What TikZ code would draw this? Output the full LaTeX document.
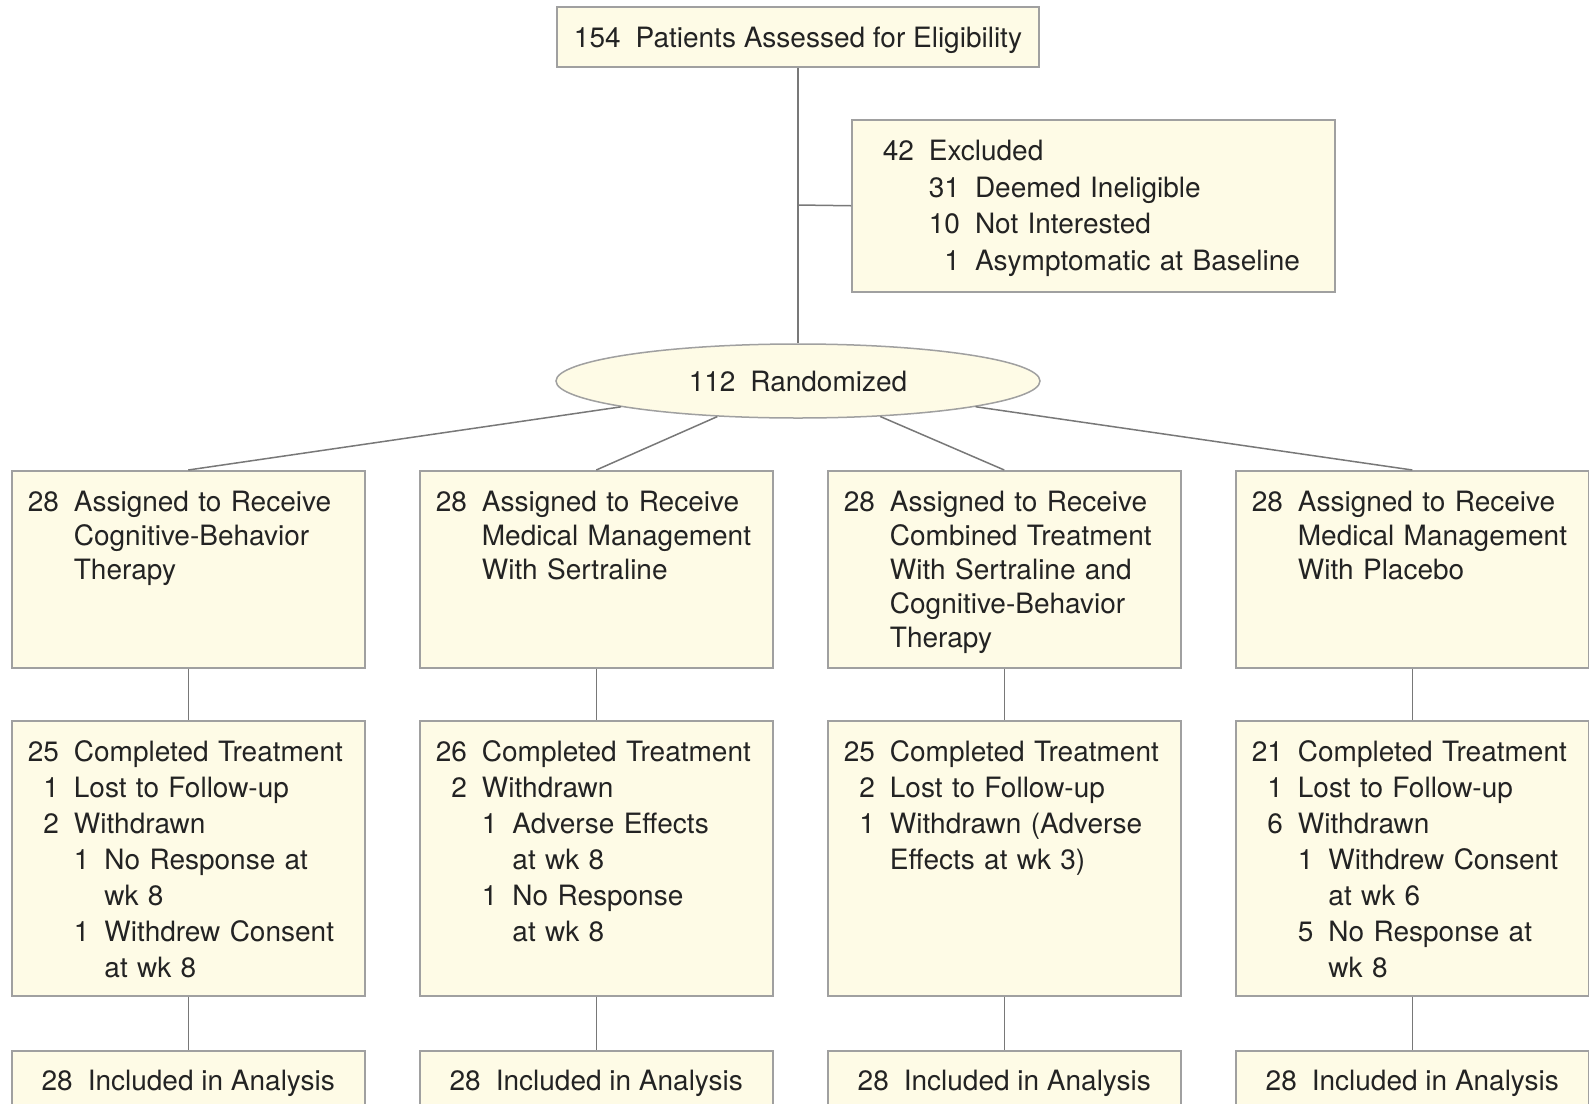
\documentclass[tikz,border=0pt]{standalone}
\usepackage{fontspec}
\setmainfont{TeX Gyre Heros}
\usetikzlibrary{shapes.geometric}
\definecolor{boxfill}{RGB}{254,251,230}
\definecolor{boxdraw}{RGB}{160,160,160}
\definecolor{linec}{RGB}{120,120,120}
\definecolor{txt}{RGB}{35,35,35}
\newcommand{\nA}[1]{\makebox[1.112em][r]{#1}\hspace{15pt}}
\newcommand{\nB}[1]{\makebox[0.556em][r]{#1}\hspace{15pt}}
\newcommand{\iA}{\hspace*{1.112em}\hspace*{15pt}}
\newcommand{\iB}{\hspace*{0.556em}\hspace*{15pt}}
\tikzset{
  basebox/.style={draw=boxdraw, fill=boxfill, line width=1.5pt, text=txt, inner ysep=0pt},
  assigned/.style={basebox, anchor=north west, inner xsep=16pt, text width=321pt, align=left,
    text height=40.6pt, text depth=156.4pt, font=\fontsize{28}{34}\selectfont},
  completed/.style={basebox, anchor=north west, inner xsep=16pt, text width=321pt, align=left,
    text height=41pt, text depth=234pt, font=\fontsize{28}{36}\selectfont},
  included/.style={basebox, anchor=north, inner xsep=0pt, minimum width=353pt, align=center,
    text height=40pt, text depth=40pt, font=\fontsize{28}{34}\selectfont},
  conn/.style={draw=linec, line width=1.5pt}
}
\begin{document}
\begin{tikzpicture}[x=1pt, y=-1pt]
\useasboundingbox (0,0) rectangle (1589,1103);
\clip (0,0) rectangle (1589,1103);
\fill[white] (0,0) rectangle (1589,1103);

% top
\node[basebox, anchor=north, minimum width=482pt, inner xsep=0pt, text height=40.5pt, text depth=19.5pt,
  font=\fontsize{28}{34}\selectfont] (top) at (798,6) {154\hspace{15pt}Patients Assessed for Eligibility};

% excluded
\node[basebox, anchor=north west, inner xsep=31pt, text width=421pt, align=left,
  text height=41pt, text depth=131pt, font=\fontsize{28}{36.5}\selectfont] (excl) at (851,119)
  {\nA{42}Excluded\\
   \iA\nA{31}Deemed Ineligible\\
   \iA\nA{10}Not Interested\\
   \iA\nA{1}Asymptomatic at Baseline};

% randomized
\node[basebox, ellipse, minimum width=484pt, minimum height=74pt, inner sep=0pt,
  font=\fontsize{28}{34}\selectfont] (rand) at (798,381) {112\hspace{15pt}Randomized};

\coordinate (br) at (798,205);
\draw[conn] (top.south) -- (rand.north);
\draw[conn] (br) -- (excl.west);

% assigned
\node[assigned] (a1) at (11,470) {\nA{28}Assigned to Receive\\ \iA Cognitive-Behavior\\ \iA Therapy};
\node[assigned] (a2) at (419,470) {\nA{28}Assigned to Receive\\ \iA Medical Management\\ \iA With Sertraline};
\node[assigned] (a3) at (827,470) {\nA{28}Assigned to Receive\\ \iA Combined Treatment\\ \iA With Sertraline and\\ \iA Cognitive-Behavior\\ \iA Therapy};
\node[assigned] (a4) at (1235,470) {\nA{28}Assigned to Receive\\ \iA Medical Management\\ \iA With Placebo};

% completed
\node[completed] (c1) at (11,720) {\nA{25}Completed Treatment\\
  \nA{1}Lost to Follow-up\\
  \nA{2}Withdrawn\\
  \iA\nB{1}No Response at\\
  \iA\iB wk 8\\
  \iA\nB{1}Withdrew Consent\\
  \iA\iB at wk 8};
\node[completed] (c2) at (419,720) {\nA{26}Completed Treatment\\
  \nA{2}Withdrawn\\
  \iA\nB{1}Adverse Effects\\
  \iA\iB at wk 8\\
  \iA\nB{1}No Response\\
  \iA\iB at wk 8};
\node[completed] (c3) at (827,720) {\nA{25}Completed Treatment\\
  \nA{2}Lost to Follow-up\\
  \nA{1}Withdrawn (Adverse\\
  \iA Effects at wk 3)};
\node[completed] (c4) at (1235,720) {\nA{21}Completed Treatment\\
  \nA{1}Lost to Follow-up\\
  \nA{6}Withdrawn\\
  \iA\nB{1}Withdrew Consent\\
  \iA\iB at wk 6\\
  \iA\nB{5}No Response at\\
  \iA\iB wk 8};

% included
\node[included] (i1) at (c1.south |- 0,1050) {28\hspace{15pt}Included in Analysis};
\node[included] (i2) at (c2.south |- 0,1050) {28\hspace{15pt}Included in Analysis};
\node[included] (i3) at (c3.south |- 0,1050) {28\hspace{15pt}Included in Analysis};
\node[included] (i4) at (c4.south |- 0,1050) {28\hspace{15pt}Included in Analysis};

\foreach \k in {1,2,3,4}{
  \draw[conn] (rand) -- (a\k.north);
  \draw[conn] (a\k.south) -- (c\k.north);
  \draw[conn] (c\k.south) -- (i\k.north);
}
\end{tikzpicture}
\end{document}
